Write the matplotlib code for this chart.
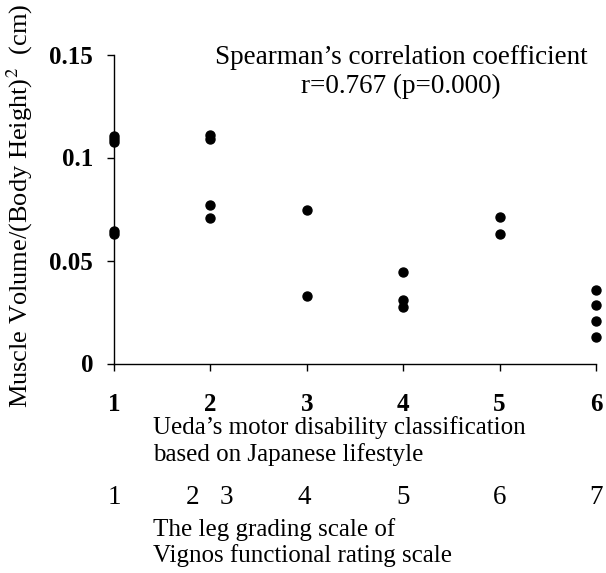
import matplotlib
matplotlib.use("Agg")
import matplotlib.pyplot as plt
import matplotlib.transforms as mtransforms

plt.rcParams['font.family'] = ['Liberation Serif', 'DejaVu Serif']
plt.rcParams['mathtext.fontset'] = 'stix'

# Ueda's class of each subject and measured muscle volume / height^2
ueda_class = [1, 1, 1, 1, 1, 2, 2, 2, 2, 3, 3, 4, 4, 4, 5, 5, 6, 6, 6, 6]
muscle_ratio = [0.1104, 0.1090, 0.1075, 0.0643, 0.0629,
                0.1110, 0.1088, 0.0768, 0.0705,
                0.0745, 0.0329,
                0.0444, 0.0308, 0.0274,
                0.0710, 0.0627,
                0.0357, 0.0284, 0.0207, 0.0129]

ueda_ticks = [1, 2, 3, 4, 5, 6]
y_ticks = [0, 0.05, 0.1, 0.15]
y_ticklabels = ['0', '0.05', '0.1', '0.15']

# Vignos leg grades, placed against the Ueda axis
vignos_labels = ['1', '2', '3', '4', '5', '6', '7']
vignos_pos = [1, 1.82, 2.17, 2.97, 4, 5, 6]

W, H = 606, 573
fig = plt.figure(figsize=(W / 100, H / 100), dpi=100)
ax = fig.add_axes([114 / W, 1 - 363.5 / H, (596 - 114) / W, (363.5 - 54.5) / H])

ax.scatter(ueda_class, muscle_ratio, s=42, color='black', clip_on=False, zorder=3)

ax.set_xlim(1, 6)
ax.set_ylim(0, 0.15)
ax.set_xticks(ueda_ticks)
ax.set_xticklabels([str(t) for t in ueda_ticks], fontweight='bold', fontsize=18)
ax.set_yticks(y_ticks)
ax.set_yticklabels(y_ticklabels, fontweight='bold', fontsize=18)
ax.tick_params(axis='y', direction='out', length=5, width=1, pad=10)
ax.tick_params(axis='x', direction='out', length=5, width=1, pad=16)
for s in ['top', 'right']:
    ax.spines[s].set_visible(False)
for s in ['left', 'bottom']:
    ax.spines[s].set_linewidth(1)

fig.text(20 / W, 1 - 206 / H, 'Muscle Volume/(Body Height)$^2$  (cm)',
         rotation=90, ha='center', va='center', fontsize=19)

fig.text(401 / W, 1 - 58 / H, 'Spearman\u2019s correlation coefficient',
         ha='center', va='center', fontsize=19.5)
fig.text(401 / W, 1 - 86 / H, 'r=0.767 (p=0.000)',
         ha='center', va='center', fontsize=19.5)

fig.text(153 / W, 1 - 428 / H, 'Ueda\u2019s motor disability classification',
         ha='left', va='center', fontsize=18)
fig.text(153 / W, 1 - 455 / H, 'based on Japanese lifestyle',
         ha='left', va='center', fontsize=18)

trans = mtransforms.blended_transform_factory(ax.transData, fig.transFigure)
for p, lab in zip(vignos_pos, vignos_labels):
    ax.text(p, 1 - 498 / H, lab, transform=trans, ha='center', va='center',
            fontsize=19.5, clip_on=False)

fig.text(153 / W, 1 - 530 / H, 'The leg grading scale of',
         ha='left', va='center', fontsize=18)
fig.text(153 / W, 1 - 556 / H, 'Vignos functional rating scale',
         ha='left', va='center', fontsize=18)

fig.savefig('out.png', dpi=100)
